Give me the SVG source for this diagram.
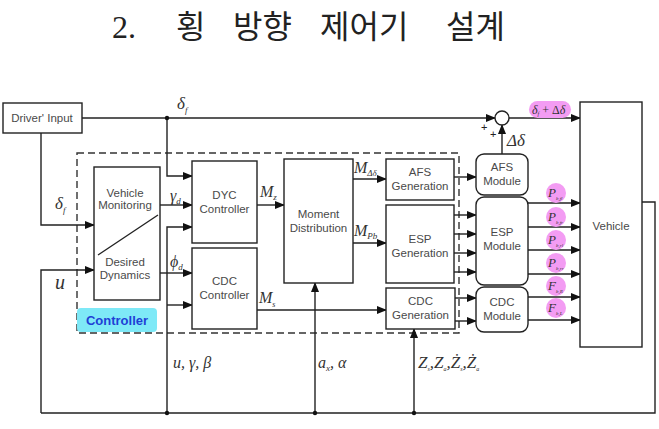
<svg xmlns="http://www.w3.org/2000/svg" width="659" height="429" viewBox="0 0 659 429">
<style>
.box{fill:#fff;stroke:#222;stroke-width:1.4}
.ln{fill:none;stroke:#222;stroke-width:1.4}
.lb{font-family:"Liberation Sans",Arial,sans-serif;font-size:11.5px;fill:#4a4a4a;text-anchor:middle}
.m{font-family:"Liberation Serif","Times New Roman",serif;font-style:italic;fill:#333}
.pill{fill:#f39cf3}
</style>
<defs>
<marker id="ar" markerUnits="userSpaceOnUse" markerWidth="10" markerHeight="8" refX="9" refY="4" orient="auto">
<path d="M0,0 L10,4 L0,8 Z" fill="#111"/>
</marker>
</defs>
<rect width="659" height="429" fill="#fff"/>

<g id="title" font-size="32" fill="#222">
<text x="112" y="38" font-family="'Liberation Serif',serif">2.</text>
<text x="176" y="38" font-family="'Noto Sans CJK KR',sans-serif">횡</text>
<text x="233" y="38" font-family="'Noto Sans CJK KR',sans-serif">방향</text>
<text x="320" y="38" font-family="'Noto Sans CJK KR',sans-serif">제어기</text>
<text x="446" y="38" font-family="'Noto Sans CJK KR',sans-serif">설계</text>
</g>

<g id="controller-frame">
<rect x="77" y="153" width="382" height="180" fill="none" stroke="#333" stroke-width="1.4" stroke-dasharray="7,4"/>
<rect x="77" y="308" width="80" height="24" rx="4" fill="#7ee9f7"/>
<text x="117" y="325" font-family="'Liberation Sans',Arial,sans-serif" font-size="13" font-weight="bold" fill="#1f3fd6" text-anchor="middle">Controller</text>
</g>

<g id="connectors">
<path class="ln" d="M82,118 H495" marker-end="url(#ar)"/>
<path class="ln" d="M167,118 V176 H192" marker-end="url(#ar)"/>
<path class="ln" d="M509,118 H580" marker-end="url(#ar)"/>
<path class="ln" d="M502,154 V125" marker-end="url(#ar)"/>
<path class="ln" d="M41,133 V225 H94" marker-end="url(#ar)"/>
<path class="ln" d="M41,413 V270 H94" marker-end="url(#ar)"/>
<path class="ln" d="M642,202 H655 V413 H41"/>
<path class="ln" d="M167,413 V227 H192" marker-end="url(#ar)"/>
<path class="ln" d="M167,305 H192" marker-end="url(#ar)"/>
<path class="ln" d="M160,205 H192" marker-end="url(#ar)"/>
<path class="ln" d="M160,273 H192" marker-end="url(#ar)"/>
<path class="ln" d="M257,205 H284" marker-end="url(#ar)"/>
<path class="ln" d="M257,310 H386" marker-end="url(#ar)"/>
<path class="ln" d="M353,179 H386" marker-end="url(#ar)"/>
<path class="ln" d="M353,243 H386" marker-end="url(#ar)"/>
<path class="ln" d="M315,413 V283" marker-end="url(#ar)"/>
<path class="ln" d="M414,413 V329" marker-end="url(#ar)"/>
<path class="ln" d="M454,177 H476" marker-end="url(#ar)"/>
<path class="ln" d="M454,215 H476" marker-end="url(#ar)"/>
<path class="ln" d="M454,234 H476" marker-end="url(#ar)"/>
<path class="ln" d="M454,253 H476" marker-end="url(#ar)"/>
<path class="ln" d="M454,272 H476" marker-end="url(#ar)"/>
<path class="ln" d="M455,298 H476" marker-end="url(#ar)"/>
<path class="ln" d="M455,321 H476" marker-end="url(#ar)"/>
<path class="ln" d="M528,203 H580" marker-end="url(#ar)"/>
<path class="ln" d="M528,227 H580" marker-end="url(#ar)"/>
<path class="ln" d="M528,250 H580" marker-end="url(#ar)"/>
<path class="ln" d="M528,274 H580" marker-end="url(#ar)"/>
<path class="ln" d="M528,297 H580" marker-end="url(#ar)"/>
<path class="ln" d="M528,320 H580" marker-end="url(#ar)"/>
<circle cx="167" cy="118" r="2.2" fill="#111"/>
<circle cx="167" cy="413" r="2.2" fill="#111"/>
<circle cx="315" cy="413" r="2.2" fill="#111"/>
<circle cx="414" cy="413" r="2.2" fill="#111"/>
</g>

<g id="driver-input">
<rect class="box" x="3" y="103" width="79" height="30"/>
<text class="lb" x="42" y="122">Driver' Input</text>
</g>

<g id="sum">
<circle cx="502" cy="118" r="7" fill="#fff" stroke="#222" stroke-width="1.4"/>
<text x="481" y="131" font-family="'Liberation Sans',sans-serif" font-size="11" fill="#222">+</text>
<text x="490" y="138" font-family="'Liberation Sans',sans-serif" font-size="11" fill="#222">+</text>
</g>

<g id="vehicle-monitoring">
<rect class="box" x="94" y="167" width="66" height="133"/>
<line class="ln" x1="98" y1="255" x2="158" y2="215"/>
<text class="lb" x="125" y="197" font-size="10">Vehicle</text>
<text class="lb" x="125" y="209" font-size="10">Monitoring</text>
<text class="lb" x="125" y="266" font-size="10">Desired</text>
<text class="lb" x="125" y="279" font-size="10">Dynamics</text>
</g>

<g id="dyc-controller">
<rect class="box" x="192" y="161" width="65" height="82"/>
<text class="lb" x="224.5" y="199">DYC</text>
<text class="lb" x="224.5" y="213">Controller</text>
</g>

<g id="cdc-controller">
<rect class="box" x="192" y="248" width="65" height="81"/>
<text class="lb" x="224.5" y="285">CDC</text>
<text class="lb" x="224.5" y="299">Controller</text>
</g>

<g id="moment-distribution">
<rect class="box" x="284" y="159" width="69" height="124"/>
<text class="lb" x="318.5" y="218">Moment</text>
<text class="lb" x="318.5" y="232">Distribution</text>
</g>

<g id="afs-generation">
<rect class="box" x="386" y="159" width="68" height="41"/>
<text class="lb" x="420" y="176">AFS</text>
<text class="lb" x="420" y="190">Generation</text>
</g>

<g id="esp-generation">
<rect class="box" x="386" y="205" width="68" height="78"/>
<text class="lb" x="420" y="243">ESP</text>
<text class="lb" x="420" y="257">Generation</text>
</g>

<g id="cdc-generation">
<rect class="box" x="386" y="288" width="69" height="41"/>
<text class="lb" x="420.5" y="305">CDC</text>
<text class="lb" x="420.5" y="319">Generation</text>
</g>

<g id="afs-module">
<rect class="box" x="476" y="154" width="52" height="41" rx="8"/>
<text class="lb" x="502" y="171">AFS</text>
<text class="lb" x="502" y="185">Module</text>
</g>

<g id="esp-module">
<rect class="box" x="476" y="197" width="52" height="88" rx="8"/>
<text class="lb" x="502" y="236">ESP</text>
<text class="lb" x="502" y="250">Module</text>
</g>

<g id="cdc-module">
<rect class="box" x="476" y="287" width="52" height="45" rx="8"/>
<text class="lb" x="502" y="306">CDC</text>
<text class="lb" x="502" y="320">Module</text>
</g>

<g id="vehicle">
<rect class="box" x="580" y="102" width="62" height="245"/>
<text class="lb" x="611" y="230" font-size="13">Vehicle</text>
</g>

<g id="labels">
<text class="m" x="177" y="109" font-size="17">δ<tspan font-size="9" dy="4">f</tspan></text>
<text class="m" x="55" y="209" font-size="17">δ<tspan font-size="9" dy="4">f</tspan></text>
<text class="m" x="55" y="289" font-size="20">u</text>
<text class="m" x="170" y="201" font-size="16">γ<tspan font-size="9" dy="3">d</tspan></text>
<text class="m" x="170" y="267" font-size="16">ϕ<tspan font-size="9" dy="3">d</tspan></text>
<text class="m" x="260" y="197" font-size="16">M<tspan font-size="9" dy="3">z</tspan></text>
<text class="m" x="259" y="303" font-size="16">M<tspan font-size="8" dy="4">s</tspan></text>
<text class="m" x="354" y="173" font-size="16">M<tspan font-size="9" dy="3">Δδ</tspan></text>
<text class="m" x="354" y="236" font-size="16">M<tspan font-size="9" dy="3">Pb</tspan></text>
<text class="m" x="173" y="368" font-size="16">u, γ, β</text>
<text class="m" x="318" y="368" font-size="16">a<tspan font-size="9" dy="3">x</tspan><tspan dy="-3">, α</tspan></text>
<text class="m" x="418" y="368" font-size="17" font-style="normal">Z<tspan font-size="6" dy="3">s</tspan><tspan dy="-3">,Z</tspan><tspan font-size="6" dy="3">a</tspan><tspan dy="-3">,Ż</tspan><tspan font-size="6" dy="3">s</tspan><tspan dy="-3">,Ż</tspan><tspan font-size="6" dy="3">a</tspan></text>
<text class="m" x="507" y="146" font-size="17" font-style="normal">Δ<tspan font-style="italic">δ</tspan></text>
<rect class="pill" x="529" y="101" width="42" height="17" rx="8.5"/>
<text class="m" x="532" y="114" font-size="12">δ<tspan font-size="6" dy="2">f</tspan><tspan dy="-2" font-style="normal"> + Δ</tspan>δ</text>
<ellipse class="pill" cx="556" cy="193" rx="10" ry="10"/>
<ellipse class="pill" cx="556" cy="217" rx="10" ry="10"/>
<ellipse class="pill" cx="556" cy="240" rx="10" ry="10"/>
<ellipse class="pill" cx="556" cy="263" rx="10" ry="10"/>
<ellipse class="pill" cx="556" cy="286" rx="10" ry="10"/>
<ellipse class="pill" cx="556" cy="308" rx="10" ry="10"/>
<text class="m" x="548" y="197" font-size="13">P<tspan font-size="5" dy="3">b,fl</tspan></text>
<text class="m" x="548" y="221" font-size="13">P<tspan font-size="5" dy="3">b,fr</tspan></text>
<text class="m" x="548" y="244" font-size="13">P<tspan font-size="5" dy="3">b,rl</tspan></text>
<text class="m" x="548" y="267" font-size="13">P<tspan font-size="5" dy="3">b,rr</tspan></text>
<text class="m" x="548" y="290" font-size="13">F<tspan font-size="5" dy="3">b,R</tspan></text>
<text class="m" x="548" y="312" font-size="13">F<tspan font-size="5" dy="3">b,L</tspan></text>
</g>
</svg>
